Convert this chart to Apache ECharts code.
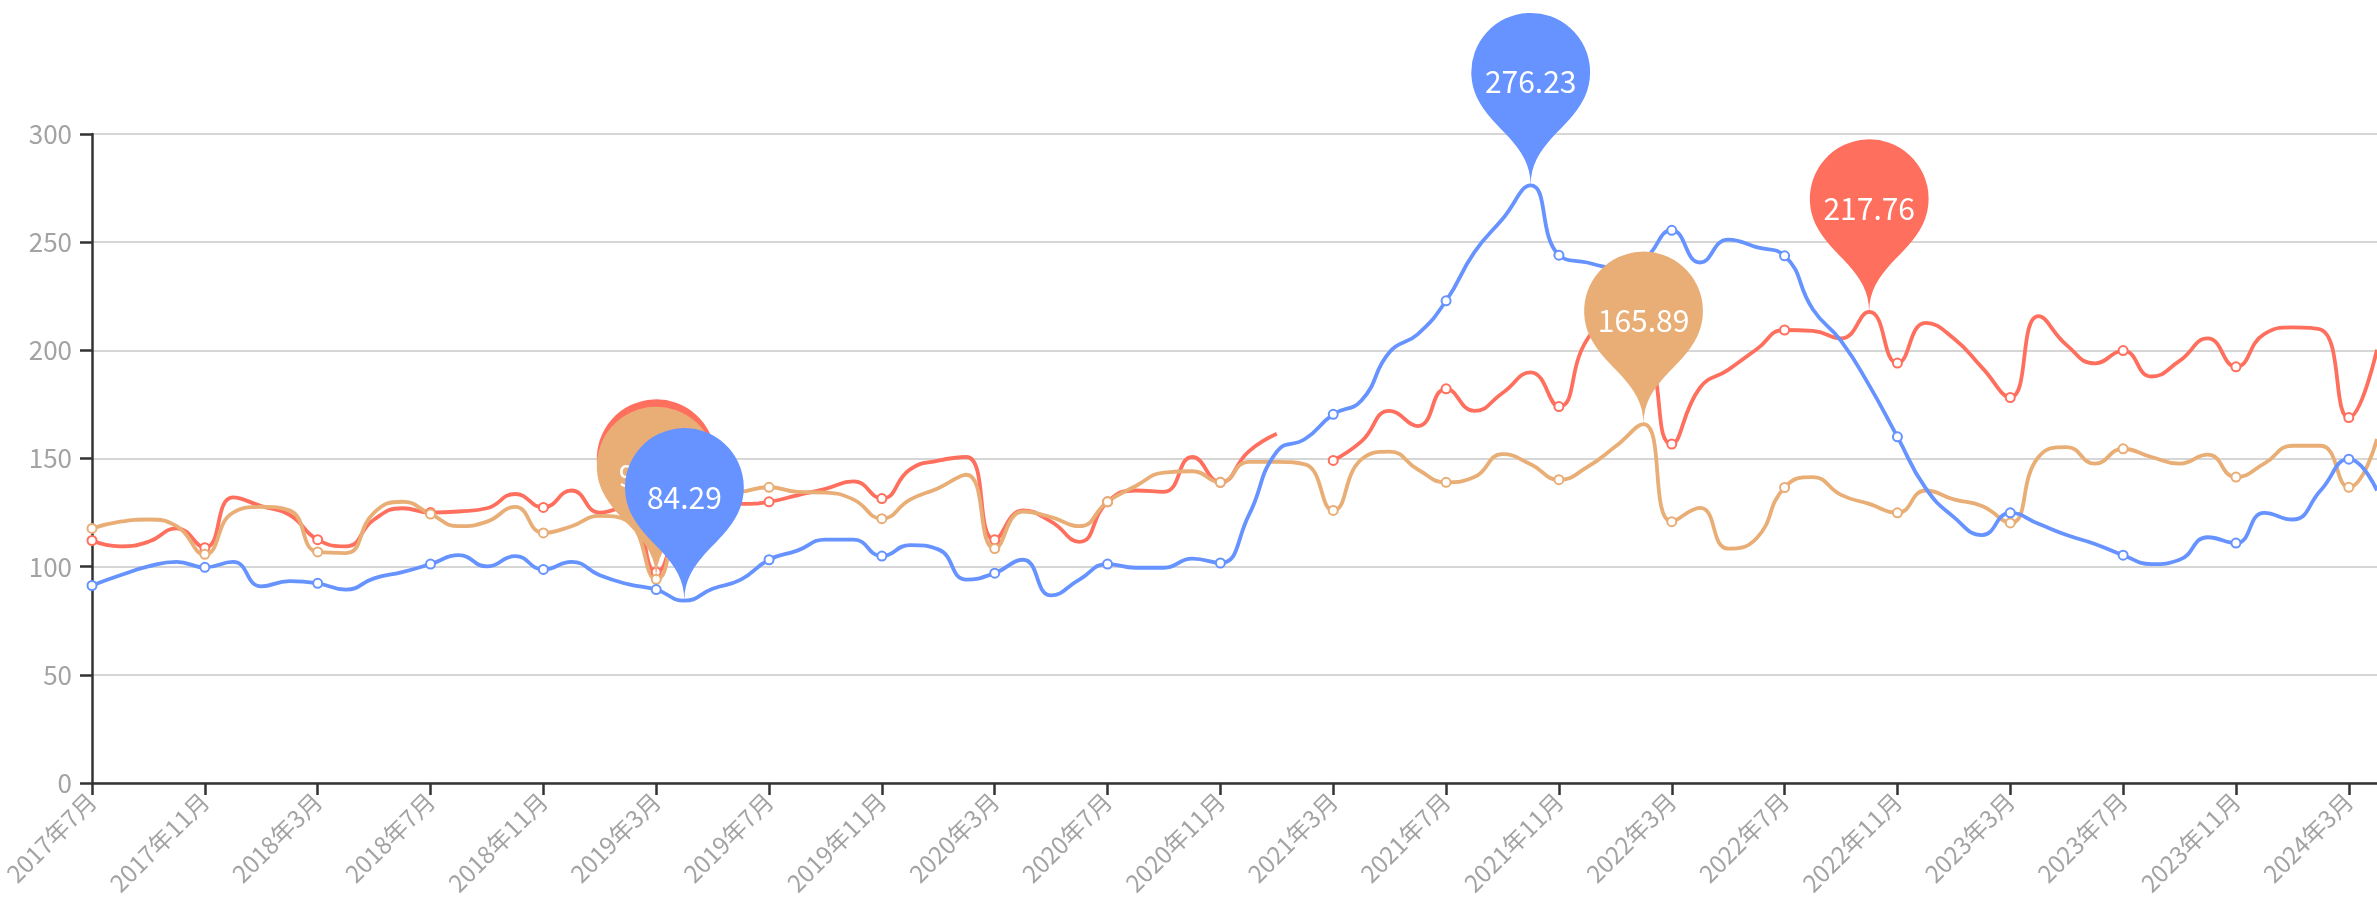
<!DOCTYPE html>
<html>
<head>
<meta charset="utf-8">
<title>月度指数走势</title>
<script src="https://cdn.jsdelivr.net/npm/echarts@6/dist/echarts.min.js"></script>
<style>
  html, body { margin: 0; padding: 0; background: #ffffff; }
  #chart { width: 2377px; height: 914px; }
</style>
</head>
<body>
<div id="chart"></div>
<script>
// Monthly categories, 2017年7月 – 2024年4月
const months = [
  '2017年7月','2017年8月','2017年9月','2017年10月','2017年11月','2017年12月',
  '2018年1月','2018年2月','2018年3月','2018年4月','2018年5月','2018年6月',
  '2018年7月','2018年8月','2018年9月','2018年10月','2018年11月','2018年12月',
  '2019年1月','2019年2月','2019年3月','2019年4月','2019年5月','2019年6月',
  '2019年7月','2019年8月','2019年9月','2019年10月','2019年11月','2019年12月',
  '2020年1月','2020年2月','2020年3月','2020年4月','2020年5月','2020年6月',
  '2020年7月','2020年8月','2020年9月','2020年10月','2020年11月','2020年12月',
  '2021年1月','2021年2月','2021年3月','2021年4月','2021年5月','2021年6月',
  '2021年7月','2021年8月','2021年9月','2021年10月','2021年11月','2021年12月',
  '2022年1月','2022年2月','2022年3月','2022年4月','2022年5月','2022年6月',
  '2022年7月','2022年8月','2022年9月','2022年10月','2022年11月','2022年12月',
  '2023年1月','2023年2月','2023年3月','2023年4月','2023年5月','2023年6月',
  '2023年7月','2023年8月','2023年9月','2023年10月','2023年11月','2023年12月',
  '2024年1月','2024年2月','2024年3月','2024年4月'
];

// Series A (red) – 2021年2月 has no value
const seriesRed = [
  112.1, 109.4, 111.5, 117.7, 108.8, 132.0, 128.0, 124.0, 112.5, 109.4,
  121.8, 127.0, 125.0, 125.5, 127.0, 133.6, 127.4, 135.2, 125.0, 128.0,
  97.58, 124.0, 129.0, 129.0, 130.0, 133.0, 136.0, 139.4, 131.5, 145.0,
  149.0, 150.7, 112.5, 126.0, 120.8, 111.5, 130.0, 135.2, 134.6, 150.7,
  139.0, 153.2, 161.4, null, 149.1, 157.9, 172.0, 165.0, 182.2, 172.0,
  180.3, 189.8, 174.0, 205.0, 214.0, 208.0, 156.7, 182.7, 191.0, 200.4,
  209.4, 209.0, 205.5, 217.76, 194.1, 212.7, 205.5, 192.0, 178.2, 215.8,
  202.4, 194.0, 199.9, 187.9, 195.1, 205.5, 192.4, 207.5, 210.6, 209.6,
  168.9, 200.3
];

// Series B (orange)
const seriesOrange = [
  117.7, 120.8, 121.8, 118.7, 105.7, 125.0, 127.6, 126.0, 106.8, 106.3,
  125.0, 130.0, 124.3, 118.7, 120.8, 127.6, 115.6, 118.7, 123.5, 121.0,
  94.16, 128.0, 133.0, 134.6, 136.7, 134.6, 134.2, 131.0, 122.2, 131.0,
  136.3, 142.5, 108.4, 125.5, 122.9, 118.7, 130.0, 137.3, 143.5, 144.1,
  139.0, 148.4, 148.4, 147.3, 126.0, 149.6, 153.2, 144.9, 139.0, 141.4,
  152.0, 147.3, 140.2, 146.0, 155.5, 165.89, 120.8, 127.2, 108.3, 113.0,
  136.6, 141.4, 133.2, 129.0, 124.9, 135.2, 131.1, 128.0, 120.2, 150.7,
  155.3, 147.6, 154.5, 150.7, 147.6, 151.8, 141.4, 147.6, 155.9, 155.9,
  136.7, 159.0
];

// Series C (blue)
const seriesBlue = [
  91.3, 96.0, 100.1, 102.2, 99.7, 102.2, 90.9, 93.3, 92.3, 89.4,
  94.6, 97.5, 101.2, 105.3, 100.1, 104.9, 98.7, 102.2, 96.0, 91.9,
  89.4, 84.29, 89.8, 94.0, 103.2, 107.4, 112.5, 112.5, 104.9, 110.0,
  108.0, 94.0, 97.0, 103.2, 86.7, 94.0, 101.2, 99.5, 99.5, 103.7,
  101.7, 123.6, 153.2, 159.0, 170.4, 176.8, 199.2, 207.5, 222.9, 245.3,
  260.7, 276.23, 244.0, 240.6, 238.2, 242.0, 255.5, 240.6, 251.2, 247.7,
  243.7, 219.0, 204.4, 183.8, 160.0, 136.3, 122.9, 114.6, 124.9, 119.8,
  114.6, 110.5, 105.3, 101.2, 103.2, 113.6, 110.9, 124.9, 121.8, 135.2,
  149.7, 135.2
];

const yTicks = { min: 0, max: 300, step: 50 };

const FONT = '"Noto Sans CJK SC", "Microsoft YaHei", sans-serif';

// Every pin stands upright with its tip on the data point.
const pinItem = (type, name) => ({
  type: type,
  name: name,
  symbol: 'pin',
  symbolRotate: 0,
  symbolOffset: [0, 0]
});

// Each series gets its own marker layer so later pins cover earlier pins and their labels.
function lineSeries(name, data, color, markerZ) {
  return {
    name: name,
    type: 'line',
    data: data,
    smooth: true,
    showSymbol: true,
    showAllSymbol: false,
    symbol: 'emptyCircle',
    symbolSize: 9,
    connectNulls: false,
    lineStyle: { width: 3.8, color: color },
    itemStyle: { color: color, borderWidth: 2.5 },
    markPoint: {
      z: markerZ,
      symbol: 'pin',
      symbolSize: 198,
      symbolRotate: 0,
      symbolOffset: [0, 0],
      data: [pinItem('max', '最大值'), pinItem('min', '最小值')],
      itemStyle: { color: color },
      label: {
        show: true,
        position: 'inside',
        color: '#ffffff',
        fontSize: 30,
        fontFamily: FONT
      }
    }
  };
}

const chart = echarts.init(document.getElementById('chart'), null, { renderer: 'canvas' });

chart.setOption({
  animation: false,
  backgroundColor: '#ffffff',
  grid: { left: 92, right: -1, top: 134, bottom: 131, containLabel: false },
  xAxis: {
    type: 'category',
    data: months,
    boundaryGap: false,
    axisLine: { show: true, lineStyle: { color: '#333333', width: 2.5 } },
    axisTick: { show: true, length: 12, lineStyle: { color: '#333333', width: 2.5 } },
    axisLabel: {
      interval: 3,
      rotate: 45,
      margin: 14,
      fontSize: 24,
      color: '#a3a3a3',
      fontFamily: FONT
    },
    splitLine: { show: false }
  },
  yAxis: {
    type: 'value',
    min: yTicks.min,
    max: yTicks.max,
    interval: yTicks.step,
    axisLine: { show: true, lineStyle: { color: '#333333', width: 2.5 } },
    axisTick: { show: true, length: 12, lineStyle: { color: '#333333', width: 2.5 } },
    axisLabel: { margin: 20, fontSize: 26, color: '#a3a3a3', fontFamily: FONT },
    splitLine: { show: true, lineStyle: { color: '#d6d6d6', width: 2 } }
  },
  series: [
    lineSeries('红', seriesRed, '#ff6f5e', 5),
    lineSeries('橙', seriesOrange, '#e9ad76', 6),
    lineSeries('蓝', seriesBlue, '#6693ff', 7)
  ]
});
</script>
</body>
</html>
